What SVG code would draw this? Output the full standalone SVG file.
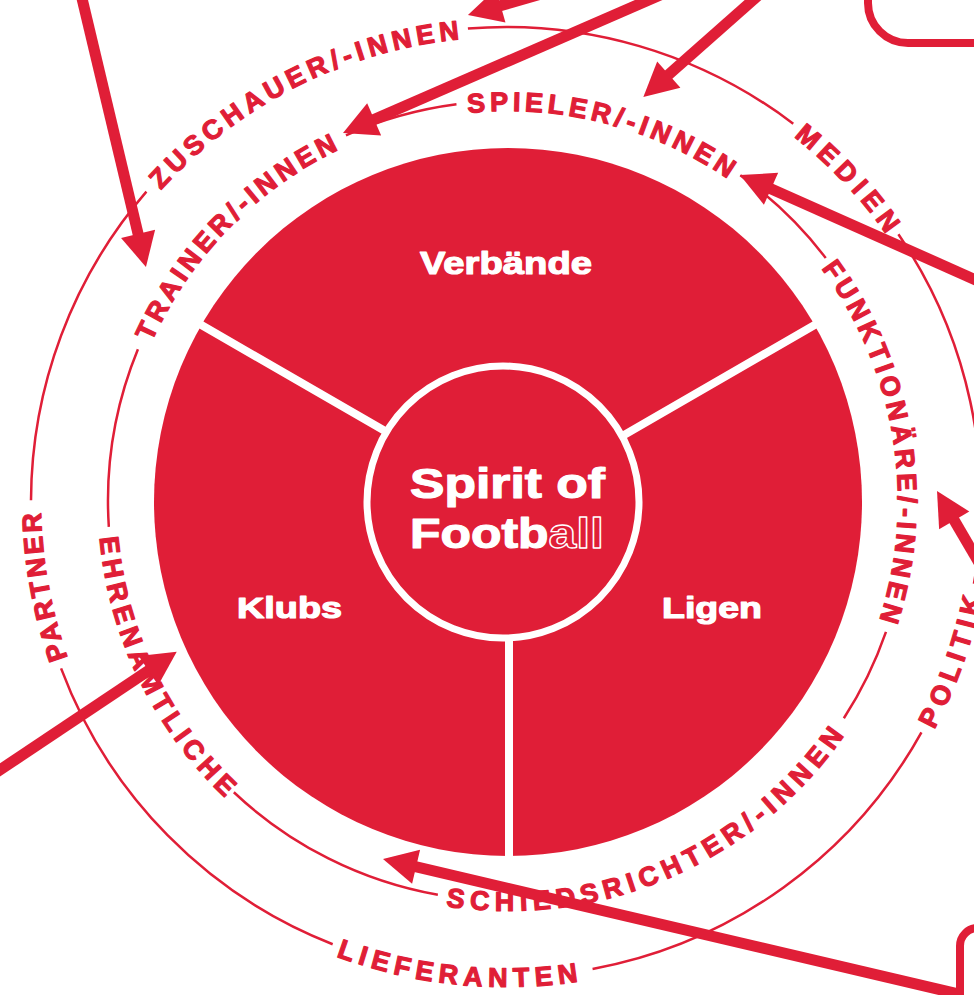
<svg xmlns="http://www.w3.org/2000/svg" width="974" height="995" viewBox="0 0 974 995">
<style>
.ring{fill:none;stroke:#E01E37;stroke-width:2.5}
.rt{font-family:"Liberation Sans",Arial,sans-serif;font-weight:700;font-size:27px;fill:#E01E37;stroke:#E01E37;stroke-width:1.2;stroke-linejoin:round}
.lbl{font-family:"Liberation Sans",Arial,sans-serif;font-weight:700;fill:#fff;stroke:#fff;stroke-width:1.2;stroke-linejoin:round}
.div{stroke:#fff;stroke-width:8;fill:none}
.arr{stroke:#E01E37;stroke-width:11;fill:none;marker-end:url(#ah)}
.box{fill:none;stroke:#E01E37;stroke-width:8}
</style>
<defs>
<marker id="ah" markerUnits="userSpaceOnUse" markerWidth="36" markerHeight="36" refX="4" refY="17.5" orient="auto" overflow="visible">
<path d="M0,0 L34,17.5 L0,35 z" fill="#E01E37"/>
</marker>
<path id="pTR" d="M151.72,342.37 A390,390 0 0 1 374.61,134.52"/>
<path id="pSP" d="M467.91,113.07 A390,390 0 0 1 758.69,202.24"/>
<path id="pFU" d="M821.10,268.47 A390,390 0 0 1 861.46,665.82"/>
<path id="pSC" d="M445.98,906.28 A410,410 0 0 0 870.01,693.48"/>
<path id="pEH" d="M99.62,537.45 A410,410 0 0 0 255.58,824.08"/>
<path id="pZU" d="M160.98,190.25 A465,465 0 0 1 506,37"/>
<path id="pME" d="M793.56,136.58 A465,465 0 0 1 908.70,269.50"/>
<path id="pPO" d="M934.23,729.69 A485,485 0 0 0 989.15,544.27"/>
<path id="pLI" d="M336.15,956.28 A485,485 0 0 0 631.53,970.48"/>
<path id="pPA" d="M67.94,657.98 A465,465 0 0 1 48.06,421.25"/>
</defs>
<rect width="974" height="995" fill="#fff"/>
<g id="rings">
<path class="ring" d="M108.83,526.81 A400,400 0 0 1 137.92,349.22 M345.97,135.30 A400,400 0 0 1 456.48,104.33 M740.28,175.35 A400,400 0 0 1 825.76,258.05 M885.98,631.89 A400,400 0 0 1 843.85,718.27 M437.85,894.80 A400,400 0 0 1 233.84,792.27"/>
<path class="ring" d="M31.00,500.34 A475,475 0 0 1 146.42,191.63 M467.90,28.53 A475,475 0 0 1 793.25,123.70 M898.40,234.32 A475,475 0 0 1 973.93,583.67 M921.44,732.28 A475,475 0 0 1 592.56,969.04 M332.68,944.25 A475,475 0 0 1 61.08,668.35"/>
</g>
<g id="trainer"><text class="rt" letter-spacing="4.1"><textPath href="#pTR">TRAINER/-INNEN</textPath></text></g>
<g id="spieler"><text class="rt" letter-spacing="4.4"><textPath href="#pSP">SPIELER/-INNEN</textPath></text></g>
<g id="funktionaere"><text class="rt" letter-spacing="4.3"><textPath href="#pFU">FUNKTIONÄRE/-INNEN</textPath></text></g>
<g id="schiedsrichter"><text class="rt" letter-spacing="5.8"><textPath href="#pSC">SCHIEDSRICHTER/-INNEN</textPath></text></g>
<g id="ehrenamtliche"><text class="rt" letter-spacing="5.1"><textPath href="#pEH">EHRENAMTLICHE</textPath></text></g>
<g id="zuschauer"><text class="rt" letter-spacing="4.8"><textPath href="#pZU">ZUSCHAUER/-INNEN</textPath></text></g>
<g id="medien"><text class="rt" letter-spacing="6"><textPath href="#pME">MEDIEN</textPath></text></g>
<g id="politik"><text class="rt" letter-spacing="5.7"><textPath href="#pPO">POLITIK</textPath></text></g>
<g id="lieferanten"><text class="rt" letter-spacing="5.7"><textPath href="#pLI">LIEFERANTEN</textPath></text></g>
<g id="partner"><text class="rt" letter-spacing="3.3"><textPath href="#pPA">PARTNER</textPath></text></g>
<g id="disk">
<circle cx="508" cy="502" r="354" fill="#E01E37"/>
<path class="div" d="M508,502 L196.2,322 M508,502 L819.8,322 M509,502 L509,862"/>
<circle cx="503" cy="502" r="136" fill="#E01E37" stroke="#fff" stroke-width="7"/>
</g>
<g id="verbaende"><text class="lbl" x="506" y="274" font-size="32" text-anchor="middle" textLength="172" lengthAdjust="spacingAndGlyphs">Verbände</text></g>
<g id="klubs"><text class="lbl" x="289.5" y="618" font-size="30" text-anchor="middle" textLength="105" lengthAdjust="spacingAndGlyphs">Klubs</text></g>
<g id="ligen"><text class="lbl" x="712" y="618" font-size="30" text-anchor="middle" textLength="100" lengthAdjust="spacingAndGlyphs">Ligen</text></g>
<g id="spirit">
<text class="lbl" x="507.5" y="498" font-size="43" text-anchor="middle" textLength="195" lengthAdjust="spacingAndGlyphs">Spirit of</text>
<text class="lbl" x="507" y="548" font-size="43" text-anchor="middle" textLength="194" lengthAdjust="spacingAndGlyphs">Footb<tspan fill="#E01E37" stroke="#fff" stroke-width="1.3">all</tspan></text>
</g>
<g id="connectors">
<path class="arr" d="M80,-10 L139.0,237.8"/>
<path class="arr" d="M583.3,-18.1 L496.8,6.7"/>
<path class="arr" d="M673.1,-10.6 L370.5,121.0"/>
<path class="arr" d="M766.9,-12.3 L665.8,77.2"/>
<path class="arr" d="M990,286.3 L767.4,187.2"/>
<path class="arr" d="M995,589.8 L952.2,516.9"/>
<path class="arr" d="M-14.4,779.6 L151.8,668.4"/>
<path class="arr" d="M958,993.9 L412.2,865.9"/>
</g>
<g id="box-top"><path class="box" d="M868,-10 V3 A40,40 0 0 0 908,43 H1000"/></g>
<g id="box-bottom"><path class="box" d="M960,1005 V946 A18,18 0 0 1 978,928 H1000"/></g>
</svg>
